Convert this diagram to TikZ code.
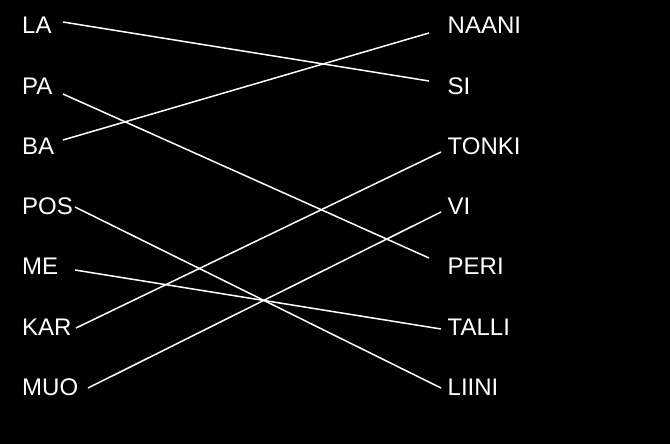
\documentclass[tikz,border=0pt]{standalone}
\usepackage{fontspec}
\setmainfont{Liberation Sans}
\usetikzlibrary{calc}
\definecolor{bg}{HTML}{000000}
\definecolor{ink}{HTML}{FFFFFF}
\tikzset{
  wire/.style={draw=ink, line width=1.5pt},
  word/.style={text=ink, anchor=base west, inner sep=0pt, font=\fontsize{24}{28}\selectfont}
}
\begin{document}
\begin{tikzpicture}[x=1pt,y=-1pt]
  \fill[bg] (0,0) rectangle (670,444);
  \useasboundingbox (0,0) rectangle (670,444);

  % left column
  \node[word] (la)  at (22,34)    {LA};
  \node[word] (pa)  at (22,94.2)  {PA};
  \node[word] (ba)  at (22,154.4) {BA};
  \node[word] (pos) at (22,214.6) {POS};
  \node[word] (me)  at (22,274.8) {ME};
  \node[word] (kar) at (22,335)   {KAR};
  \node[word] (muo) at (22,395.2) {MUO};

  % right column
  \node[word] (naani) at (447.5,34)    {NAANI};
  \node[word] (si)    at (447.5,94.2)  {SI};
  \node[word] (tonki) at (447.5,154.4) {TONKI};
  \node[word] (vi)    at (447.5,214.6) {VI};
  \node[word] (peri)  at (447.5,274.8) {PERI};
  \node[word] (talli) at (447.5,335)   {TALLI};
  \node[word] (liini) at (447.5,395.2) {LIINI};

  % wire ends
  \coordinate (la-e)  at (63,22);
  \coordinate (pa-e)  at (63,94);
  \coordinate (ba-e)  at (63,140);
  \coordinate (pos-e) at (75,207);
  \coordinate (me-e)  at (75,270);
  \coordinate (kar-e) at (76,328);
  \coordinate (muo-e) at (88,388);

  \coordinate (naani-e) at (429,33);
  \coordinate (si-e)    at (429,81);
  \coordinate (tonki-e) at (441,152);
  \coordinate (vi-e)    at (441,212);
  \coordinate (peri-e)  at (429,258);
  \coordinate (talli-e) at (441,329);
  \coordinate (liini-e) at (441,388);

  \draw[wire] (la-e)--(si-e);
  \draw[wire] (pa-e)--(peri-e);
  \draw[wire] (ba-e)--(naani-e);
  \draw[wire] (pos-e)--(liini-e);
  \draw[wire] (me-e)--(talli-e);
  \draw[wire] (kar-e)--(tonki-e);
  \draw[wire] (muo-e)--(vi-e);
\end{tikzpicture}
\end{document}
